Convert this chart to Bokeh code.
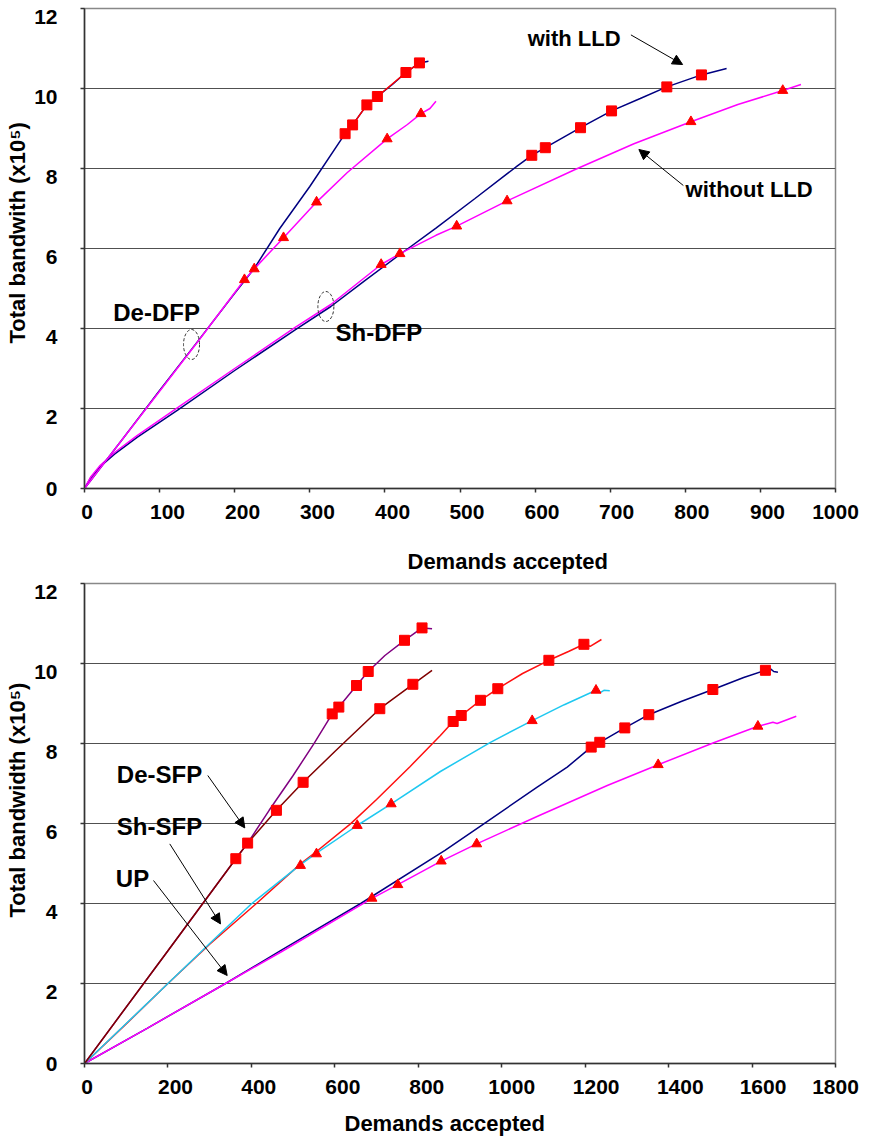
from bokeh.plotting import figure
from bokeh.layouts import column
from bokeh.models import Label, Arrow, NormalHead, FixedTicker, Range1d, LinearAxis, Title
from bokeh.embed import file_html
from bokeh.resources import INLINE

# ---------------- data: top chart (DFP) ----------------
top_x_ticks = [0, 100, 200, 300, 400, 500, 600, 700, 800, 900, 1000]
y_ticks = [0, 2, 4, 6, 8, 10, 12]

de_dfp_lld_x = [0, 50, 100, 150, 200, 226, 260, 300, 347, 357, 376, 390, 410, 428, 446, 458]
de_dfp_lld_y = [0, 1.22, 2.45, 3.66, 4.88, 5.5, 6.5, 7.55, 8.87, 9.09, 9.59, 9.8, 10.1, 10.4, 10.64, 10.68]
de_dfp_lld_mx = [347, 357, 376, 390, 428, 446]
de_dfp_lld_my = [8.87, 9.09, 9.59, 9.8, 10.4, 10.64]

de_dfp_x = [0, 50, 100, 150, 213, 226, 265, 309, 350, 403, 430, 448, 460, 468]
de_dfp_y = [0, 1.22, 2.43, 3.65, 5.22, 5.49, 6.27, 7.16, 7.9, 8.74, 9.1, 9.37, 9.5, 9.68]
de_dfp_mx = [213, 226, 265, 309, 403, 448]
de_dfp_my = [5.22, 5.49, 6.27, 7.16, 8.74, 9.37]

sh_dfp_lld_x = [0, 8, 20, 40, 70, 124, 200, 280, 328, 372, 420, 468, 520, 576, 595.6, 613.6,
                660.5, 701.8, 740, 775.4, 821.5, 855]
sh_dfp_lld_y = [0, 0.26, 0.53, 0.86, 1.28, 1.96, 2.95, 3.96, 4.55, 5.18, 5.85, 6.51, 7.25, 8.06, 8.33, 8.52,
                9.02, 9.44, 9.75, 10.04, 10.34, 10.5]
sh_dfp_lld_mx = [595.6, 613.6, 660.5, 701.8, 775.4, 821.5]
sh_dfp_lld_my = [8.33, 8.52, 9.02, 9.44, 10.04, 10.34]

sh_dfp_x = [0, 8, 20, 40, 70, 124, 200, 280, 328, 395, 420, 468, 495.6, 562.7, 652.6, 731.6,
            807.5, 870, 929.8, 954]
sh_dfp_y = [0, 0.28, 0.56, 0.9, 1.32, 2.02, 3.0, 4.02, 4.6, 5.6, 5.87, 6.33, 6.56, 7.19, 7.97, 8.62,
            9.17, 9.6, 9.95, 10.1]
sh_dfp_mx = [395, 420, 495.6, 562.7, 807.5, 929.8]
sh_dfp_my = [5.6, 5.87, 6.56, 7.19, 9.17, 9.95]

# ---------------- data: bottom chart (SFP / UP) ----------------
bot_x_ticks = [0, 200, 400, 600, 800, 1000, 1200, 1400, 1600, 1800]

de_sfp_lld_x = [0, 200, 362.7, 391, 442.6, 500, 549.6, 593.7, 609.6, 652, 680, 720, 767, 809, 833]
de_sfp_lld_y = [0, 2.82, 5.12, 5.51, 6.33, 7.2, 7.99, 8.74, 8.91, 9.45, 9.8, 10.2, 10.58, 10.89, 10.87]
de_sfp_lld_mx = [362.7, 391, 593.7, 609.6, 652, 680, 767, 809]
de_sfp_lld_my = [5.12, 5.51, 8.74, 8.91, 9.45, 9.8, 10.58, 10.89]

de_sfp_x = [0, 200, 362.7, 391, 460, 524, 600, 707.8, 787, 833]
de_sfp_y = [0, 2.82, 5.12, 5.51, 6.33, 7.03, 7.8, 8.87, 9.48, 9.83]
de_sfp_mx = [460, 524, 707.8, 787]
de_sfp_my = [6.33, 7.03, 8.87, 9.48]

sh_sfp_lld_x = [0, 100, 200, 300, 412, 517.7, 556, 637.5, 700, 780, 853, 883.6, 902.9, 949, 990.6,
                1050, 1113, 1160, 1197, 1212, 1239]
sh_sfp_lld_y = [0, 0.99, 2.0, 2.98, 4.0, 4.99, 5.3, 5.99, 6.6, 7.42, 8.2, 8.55, 8.7, 9.08, 9.37,
                9.75, 10.08, 10.3, 10.48, 10.43, 10.6]
sh_sfp_lld_mx = [883.6, 902.9, 949, 990.6, 1113, 1197]
sh_sfp_lld_my = [8.55, 8.7, 9.08, 9.37, 10.08, 10.48]

sh_sfp_x = [0, 100, 200, 300, 401, 517.7, 556, 653.6, 735, 853, 973, 1073, 1150, 1226, 1236, 1245, 1259]
sh_sfp_y = [0, 1.0, 2.0, 3.0, 4.0, 4.97, 5.26, 5.95, 6.49, 7.3, 8.03, 8.57, 8.97, 9.33, 9.27, 9.33, 9.32]
sh_sfp_mx = [517.7, 556, 653.6, 735, 1073, 1226]
sh_sfp_my = [4.95, 5.24, 5.95, 6.49, 8.57, 9.33]

up_lld_x = [0, 150, 338, 473, 662, 864, 957, 1085, 1157, 1214.5, 1235, 1295, 1352.5, 1430, 1506,
            1580, 1632, 1645, 1652, 1662]
up_lld_y = [0, 0.88, 2.0, 2.84, 4.0, 5.33, 5.99, 6.91, 7.41, 7.91, 8.03, 8.39, 8.72, 9.05, 9.35,
            9.65, 9.83, 9.86, 9.8, 9.78]
up_lld_mx = [1214.5, 1235, 1295, 1352.5, 1506, 1632]
up_lld_my = [7.91, 8.03, 8.39, 8.72, 9.35, 9.83]

up_x = [0, 150, 338, 473, 689, 751, 855, 940, 1090, 1253, 1375, 1508, 1614, 1650, 1660, 1706]
up_y = [0, 0.88, 2.0, 2.8, 4.13, 4.47, 5.06, 5.49, 6.2, 6.95, 7.47, 8.02, 8.43, 8.53, 8.5, 8.68]
up_mx = [689, 751, 855, 940, 1375, 1614]
up_my = [4.13, 4.47, 5.06, 5.49, 7.47, 8.43]

# annotation texts and anchors
top_texts = ["with LLD", "without LLD", "De-DFP", "Sh-DFP"]
top_text_x = [652, 885, 96, 392]
top_text_y = [11.25, 7.47, 4.4, 3.9]
top_text_size = ["22px", "22px", "24px", "24px"]
top_arrows = [(727.6, 11.34, 796.4, 10.6), (797.4, 7.575, 738.2, 8.475)]
top_ell_x = [142.5, 321.4]
top_ell_y = [3.6, 4.55]

bot_texts = ["De-SFP", "Sh-SFP", "UP"]
bot_text_x = [179.8, 179.8, 115]
bot_text_y = [7.225, 5.925, 4.625]
bot_arrows = [(295.5, 7.2, 384.2, 5.89), (204.4, 5.49, 326, 3.49), (165.4, 4.575, 342, 2.2)]

# axis titles
top_xtitle = "Demands accepted"
top_ytitle = "Total bandwith (x10\u2075)"
bot_xtitle = "Demands accepted"
bot_ytitle = "Total bandwidth (x10\u2075)"

# tick-label placement nudges (pixels), as in the original Excel rendering
top_x_label_nudge = [2.7, 8, 8, 7.7, 7.8, 7, 7, 6.5, 6.6, 7.2, 1.7]
bot_x_label_nudge = [2.5, 7.6, 7.4, 8, 8.5, 10, 11, 11.7, 11, 11]
y_label_drop_px = 8

FONT = "Liberation Sans"
PX_PER_Y = 40.0


def bare(ax):
    ax.axis_line_color = None
    ax.major_tick_line_color = None
    ax.minor_tick_line_color = None
    ax.major_tick_in = 0
    ax.major_tick_out = 0


def label_style(ax, standoff):
    bare(ax)
    ax.major_label_text_font = FONT
    ax.major_label_text_font_style = "bold"
    ax.major_label_text_font_size = "21px"
    ax.major_label_text_color = "black"
    ax.major_label_standoff = standoff


def spacer_axis(p, side, gap, at):
    # invisible (white-on-white) tick that only reserves vertical room for the axis title
    ax = LinearAxis(ticker=FixedTicker(ticks=[at]))
    ax.axis_line_color = None
    ax.minor_tick_line_color = None
    ax.major_tick_line_color = "white"
    ax.major_tick_line_width = 1
    ax.major_tick_in = 0
    ax.major_tick_out = gap
    ax.major_label_standoff = 0
    ax.major_label_text_color = None
    ax.major_label_text_font_size = "1px"
    p.add_layout(ax, side)


def add_title(p, t, side, offset, standoff):
    p.add_layout(Title(text=t, align="left", offset=offset, standoff=standoff,
                       text_font=FONT, text_font_style="bold", text_font_size="22px",
                       text_color="black"), side)


def make_fig(xmax, xticks, nudges, frame_w, height, border_top, border_bottom, border_right):
    p = figure(width=878, height=height, x_range=Range1d(0, xmax), y_range=Range1d(0, 12),
               output_backend="svg", toolbar_location=None,
               min_border_left=84, min_border_right=border_right,
               min_border_top=border_top, min_border_bottom=border_bottom)
    p.xaxis.ticker = FixedTicker(ticks=xticks)
    p.yaxis.ticker = FixedTicker(ticks=y_ticks)
    p.xgrid.visible = False
    p.ygrid.grid_line_color = "#505050"
    p.ygrid.grid_line_width = 1.2
    for ax in (p.xaxis[0], p.yaxis[0]):
        ax.axis_line_color = "#333333"
        ax.axis_line_width = 1.5
        ax.major_tick_line_color = "#333333"
        ax.major_tick_line_width = 1.5
        ax.major_tick_in = 0
        ax.major_tick_out = 4
        ax.minor_tick_line_color = None
        ax.major_label_text_color = None
        ax.major_label_text_font_size = "1px"
        ax.major_label_standoff = 0
    # tick-label axes (labels only), placed like the original
    xscale = frame_w / xmax
    xpos = [round(min(v + n / xscale, xmax), 4) for v, n in zip(xticks, nudges)]
    lab_x = LinearAxis(ticker=FixedTicker(ticks=xpos),
                       major_label_overrides={pos: str(v) for pos, v in zip(xpos, xticks)})
    label_style(lab_x, 12)
    p.add_layout(lab_x, "below")
    ypos = [max(round(v - y_label_drop_px / PX_PER_Y, 4), 0) for v in y_ticks]
    lab_y = LinearAxis(ticker=FixedTicker(ticks=ypos),
                       major_label_overrides={pos: str(v) for pos, v in zip(ypos, y_ticks)})
    label_style(lab_y, 23)
    p.add_layout(lab_y, "left")
    p.outline_line_color = "#888888"
    p.outline_line_width = 1.5
    p.background_fill_color = "white"
    p.border_fill_color = "white"
    return p


def add_text(p, x, y, t, size="22px"):
    p.add_layout(Label(x=x, y=y, text=t, text_font=FONT, text_font_style="bold",
                       text_font_size=size, text_align="center", text_baseline="middle",
                       text_color="black"))


def add_arrow(p, a):
    p.add_layout(Arrow(end=NormalHead(size=10, fill_color="black", line_color="black"),
                       x_start=a[0], y_start=a[1], x_end=a[2], y_end=a[3],
                       line_color="black", line_width=1))


def lines(p, x, y, color, width=1.5):
    p.line(x, y, line_color=color, line_width=width)


def marks(p, mx, my, marker):
    p.scatter(mx, my, marker=marker, size=10, fill_color="red", line_color="red")


# ---------------- top figure ----------------
p1 = make_fig(1000, top_x_ticks, top_x_label_nudge, 759, 579, 8, 91, 35)
lines(p1, sh_dfp_lld_x, sh_dfp_lld_y, "#000080")
lines(p1, sh_dfp_x, sh_dfp_y, "#FF00FF")
lines(p1, de_dfp_lld_x, de_dfp_lld_y, "#000080")
lines(p1, de_dfp_lld_mx, de_dfp_lld_my, "red")
lines(p1, de_dfp_x, de_dfp_y, "#FF00FF")
marks(p1, sh_dfp_lld_mx, sh_dfp_lld_my, "square")
marks(p1, sh_dfp_mx, sh_dfp_my, "triangle")
marks(p1, de_dfp_lld_mx, de_dfp_lld_my, "square")
marks(p1, de_dfp_mx, de_dfp_my, "triangle")
p1.ellipse(x=top_ell_x, y=top_ell_y, width=16, height=30, width_units="screen",
           height_units="screen", fill_color=None, line_color="#333333", line_dash="3 2",
           line_width=1)
for t, x, y, s in zip(top_texts, top_text_x, top_text_y, top_text_size):
    add_text(p1, x, y, t, s)
for a in top_arrows:
    add_arrow(p1, a)
spacer_axis(p1, "below", 25, 1000)
add_title(p1, top_xtitle, "below", 323, 0)
add_title(p1, top_ytitle, "left", 145, 4)

# ---------------- bottom figure ----------------
p2 = make_fig(1800, bot_x_ticks, bot_x_label_nudge, 751, 559, 4, 75, 43)
lines(p2, up_lld_x, up_lld_y, "#000080")
lines(p2, up_x, up_y, "#FF00FF")
lines(p2, sh_sfp_lld_x, sh_sfp_lld_y, "#FF1010")
lines(p2, sh_sfp_x, sh_sfp_y, "#1EC8F0")
lines(p2, de_sfp_lld_x, de_sfp_lld_y, "#800080")
lines(p2, de_sfp_x, de_sfp_y, "#800000")
marks(p2, up_lld_mx, up_lld_my, "square")
marks(p2, up_mx, up_my, "triangle")
marks(p2, sh_sfp_lld_mx, sh_sfp_lld_my, "square")
marks(p2, sh_sfp_mx, sh_sfp_my, "triangle")
marks(p2, de_sfp_lld_mx, de_sfp_lld_my, "square")
marks(p2, de_sfp_mx, de_sfp_my, "square")
for t, x, y in zip(bot_texts, bot_text_x, bot_text_y):
    add_text(p2, x, y, t, "24px")
for a in bot_arrows:
    add_arrow(p2, a)
spacer_axis(p2, "below", 12, 1800)
add_title(p2, bot_xtitle, "below", 260, 0)
add_title(p2, bot_ytitle, "left", 146, 4)

layout = column(p1, p2, spacing=0)
open("out.html", "w").write(file_html(layout, INLINE))
